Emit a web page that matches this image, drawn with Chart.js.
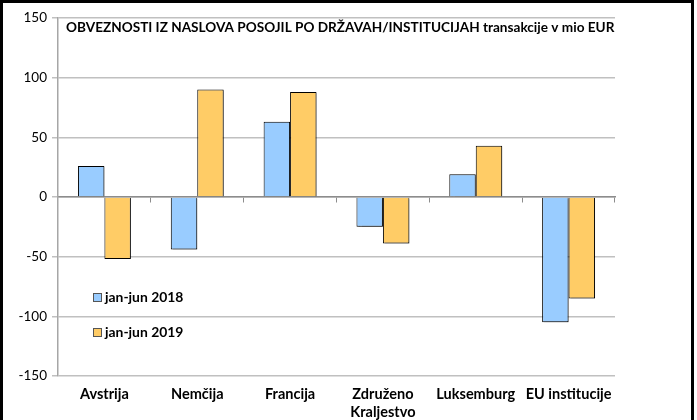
<!DOCTYPE html>
<html><head><meta charset="utf-8">
<script src="https://cdn.jsdelivr.net/npm/chart.js@4/dist/chart.umd.min.js"></script>
<style>
html,body{margin:0;padding:0;background:#fff;overflow:hidden}
#wrap{position:relative;width:697px;height:420px}
#frame{position:absolute;left:0;top:0;width:694px;height:440px;border:3px solid #000;box-sizing:border-box;pointer-events:none}
canvas{position:absolute;left:0;top:0}
</style></head>
<body>
<div id="wrap"><canvas id="c" width="697" height="420"></canvas><div id="frame"></div></div>
<script>
const categories = ['Avstrija', 'Nemčija', 'Francija', ['Združeno', 'Kraljestvo'], 'Luksemburg', 'EU institucije'];
const seriesLabels = ['jan-jun 2018', 'jan-jun 2019'];
const series2018 = [26, -44, 63, -25, 19, -105];
const series2019 = [-52, 90, 88, -39, 43, -85];
const yTicks = [-150, -100, -50, 0, 50, 100, 150];
const titleText = 'OBVEZNOSTI IZ NASLOVA POSOJIL PO DRŽAVAH/INSTITUCIJAH transakcije v mio EUR';

const colors = ['#99CCFF', '#FFCC66'];
const FONT = 'Lato';

const shadowPlugin = {
  id: 'shadow',
  beforeDatasetsDraw(chart) {
    const ctx = chart.ctx; ctx.save();
    ctx.shadowColor = 'rgba(0,0,0,0.3)';
    ctx.shadowOffsetX = 2; ctx.shadowOffsetY = 1; ctx.shadowBlur = 1;
  },
  afterDatasetsDraw(chart) { chart.ctx.restore(); }
};

const overlayPlugin = {
  id: 'overlay',
  afterDraw(chart) {
    const ctx = chart.ctx, a = chart.chartArea;
    ctx.save();
    ctx.fillStyle = '#000';
    ctx.font = 'bold 13.6px ' + FONT;
    ctx.textBaseline = 'middle';
    ctx.textAlign = 'left';
    ctx.fillText(titleText, a.left + 8, a.top + 10);
    // legend
    const ys = [298, 333];
    chart.data.datasets.forEach((ds, i) => {
      const y = ys[i];
      ctx.fillStyle = ds.backgroundColor;
      ctx.fillRect(93.5, y - 4.5, 8, 8);
      ctx.strokeStyle = '#555'; ctx.lineWidth = 1;
      ctx.strokeRect(93.5, y - 4.5, 8, 8);
      ctx.fillStyle = '#000';
      ctx.font = 'bold 13.9px ' + FONT;
      ctx.fillText(ds.label, 105, y);
    });
    ctx.restore();
  }
};

new Chart(document.getElementById('c'), {
  type: 'bar',
  data: {
    labels: categories,
    datasets: [
      { label: seriesLabels[0], data: series2018, backgroundColor: colors[0], borderColor: '#000', borderWidth: 1 },
      { label: seriesLabels[1], data: series2019, backgroundColor: colors[1], borderColor: '#000', borderWidth: 1 }
    ]
  },
  options: {
    responsive: false,
    animation: false,
    devicePixelRatio: 1,
    layout: { padding: { left: 0, right: 82, top: 18, bottom: 0 } },
    datasets: { bar: { categoryPercentage: 0.57, barPercentage: 1 } },
    plugins: { legend: { display: false }, title: { display: false }, tooltip: { enabled: false } },
    scales: {
      x: {
        type: 'category',
        offset: true,
        grid: { display: false },
        border: { display: false },
        ticks: { color: '#000', font: { family: FONT, size: 14.5, weight: 'bold', lineHeight: 1.2 }, padding: 2, maxRotation: 0, autoSkip: false },
        afterFit(s) { s.height = 44; }
      },
      x2: {
        type: 'category',
        position: { y: 0 },
        offset: true,
        labels: categories,
        grid: { offset: true, drawOnChartArea: false, drawTicks: true, tickLength: 5, color: '#8c8c8c', lineWidth: 1 },
        border: { display: true, color: '#8c8c8c', width: 1.5 },
        ticks: { display: false }
      },
      y: {
        min: -150, max: 150,
        afterBuildTicks(s) { s.ticks = yTicks.map(v => ({ value: v })); },
        grid: { color: '#c0c0c0', lineWidth: 1.5, tickLength: 6 },
        border: { display: true, color: '#a6a6a6', width: 1.5 },
        ticks: { color: '#000', font: { family: FONT, size: 13.5 }, padding: 5 },
        afterFit(s) { s.width = 58; }
      }
    }
  },
  plugins: [shadowPlugin, overlayPlugin]
});
</script>
</body></html>
